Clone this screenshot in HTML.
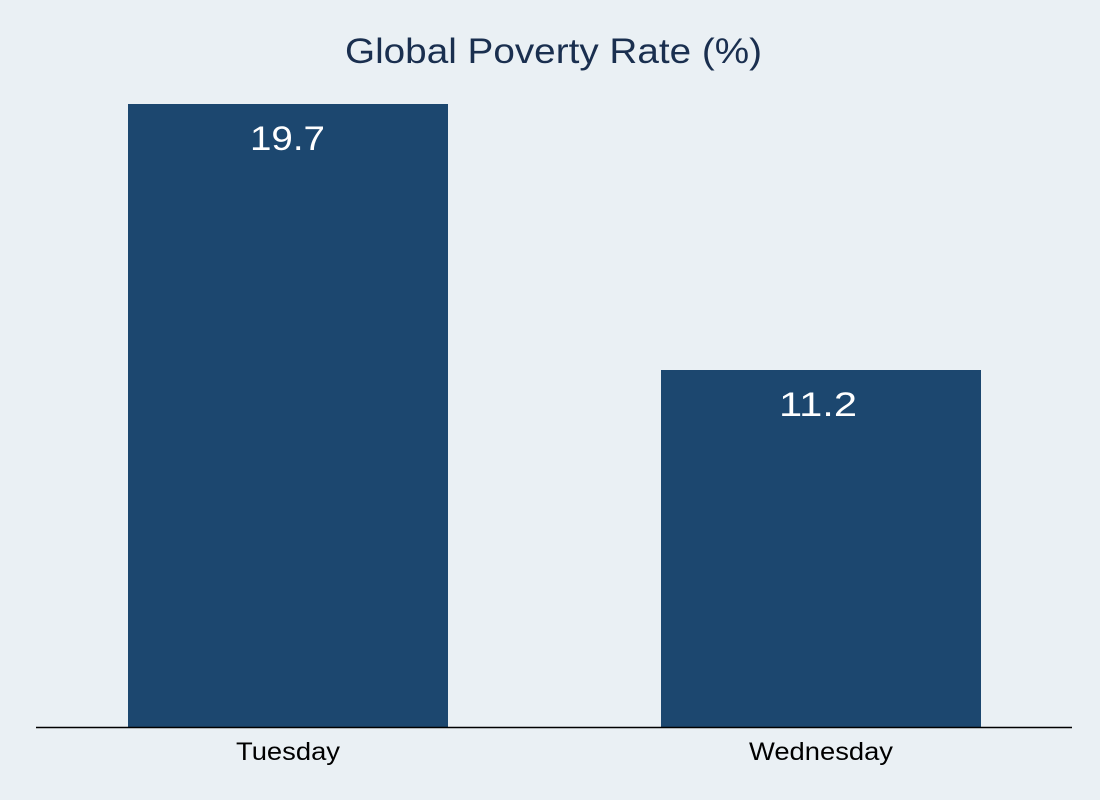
<!DOCTYPE html>
<html><head><style>
html,body{margin:0;padding:0;background:#eaf0f4;}
</style></head><body>
<svg width="1100" height="800" xmlns="http://www.w3.org/2000/svg" style="display:block">
<rect width="1100" height="800" fill="#eaf0f4"/>
<text x="553.5" y="63" text-anchor="middle" font-family="Liberation Sans, sans-serif" font-size="35" fill="#1a2f4f" textLength="417" lengthAdjust="spacingAndGlyphs">Global Poverty Rate (%)</text>
<rect x="128" y="104" width="320" height="623" fill="#1c476f"/>
<rect x="661" y="370" width="320" height="357" fill="#1c476f"/>
<line x1="36" y1="727.5" x2="1072" y2="727.5" stroke="#000" stroke-width="1.5"/>
<text x="287.5" y="150" text-anchor="middle" font-family="Liberation Sans, sans-serif" font-size="34" fill="#fff" textLength="75" lengthAdjust="spacingAndGlyphs">19.7</text>
<text x="818" y="416" text-anchor="middle" font-family="Liberation Sans, sans-serif" font-size="34" fill="#fff" textLength="78" lengthAdjust="spacingAndGlyphs">11.2</text>
<text x="288" y="760" text-anchor="middle" font-family="Liberation Sans, sans-serif" font-size="25" fill="#000" textLength="104" lengthAdjust="spacingAndGlyphs">Tuesday</text>
<text x="821" y="760" text-anchor="middle" font-family="Liberation Sans, sans-serif" font-size="25" fill="#000" textLength="144" lengthAdjust="spacingAndGlyphs">Wednesday</text>
</svg>
</body></html>
